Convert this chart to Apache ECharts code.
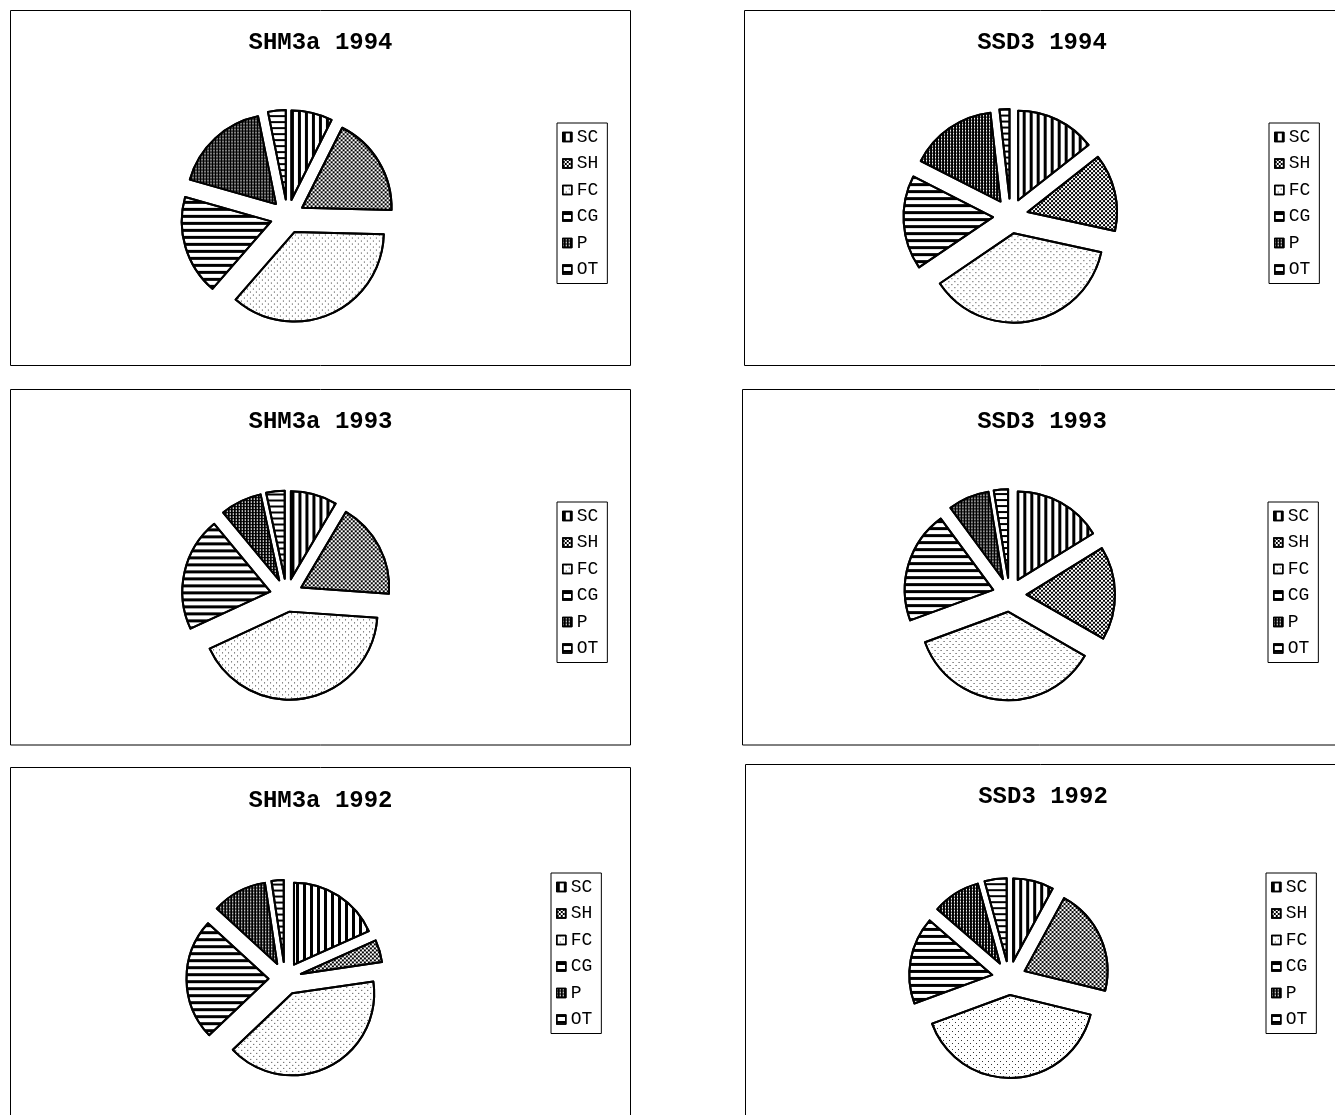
<!DOCTYPE html>
<html>
<head>
<meta charset="utf-8">
<script src="https://cdn.jsdelivr.net/npm/echarts@6/dist/echarts.min.js"></script>
<style>
  html, body { margin: 0; padding: 0; background: #fff; overflow: hidden; }
  #chart { width: 1335px; height: 1115px; }
</style>
</head>
<body>
<div id="chart"></div>
<script>
// Shares (%) per category, slices run clockwise from 12 o'clock
const categories = ['SC', 'SH', 'FC', 'CG', 'P', 'OT'];
const shm3a1994 = [7.4, 18.0, 36.0, 18.0, 17.4, 3.2];
const ssd31994  = [14.4, 14.0, 37.1, 17.0, 15.7, 1.8];
const shm3a1993 = [8.5, 17.6, 42.0, 20.9, 7.6, 3.4];
const ssd31993  = [16.2, 17.1, 36.1, 20.5, 7.5, 2.6];
const shm3a1992 = [18.3, 4.4, 40.2, 23.9, 10.8, 2.4];
const ssd31992  = [7.9, 20.9, 40.6, 17.0, 9.3, 4.3];
const titles = ['SHM3a 1994', 'SSD3 1994', 'SHM3a 1993', 'SSD3 1993', 'SHM3a 1992', 'SSD3 1992'];

// Black & white hatch fills, one per category
const rectDecal = (extra) => Object.assign({
  symbol: 'rect', symbolSize: 1, symbolKeepAspect: false,
  maxTileWidth: 512, maxTileHeight: 512
}, extra);
const fills = {
  SC: { color: '#fff', decal: rectDecal({ color: '#000', dashArrayX: [3, 4], dashArrayY: [8, 0] }) },
  SH: { color: '#fff', decal: rectDecal({ color: '#000', dashArrayX: [[2, 2], [0, 2, 2, 0]], dashArrayY: [2, 0] }) },
  FC: { color: '#fff', decal: rectDecal({ color: '#333', dashArrayX: [[1, 5], [0, 3, 1, 2]], dashArrayY: [1, 2] }) },
  CG: { color: '#fff', decal: rectDecal({ color: '#000', dashArrayX: [8, 0], dashArrayY: [3, 4] }) },
  P:  { color: '#000', decal: rectDecal({ color: '#fff', dashArrayX: [1, 2], dashArrayY: [2, 1] }) },
  OT: { color: '#fff', decal: rectDecal({ color: '#000', dashArrayX: [8, 0], dashArrayY: [2, 4] }) }
};

const panels = [
  { title: titles[0], values: shm3a1994, frame: [10.5, 10.5, 620, 355],   titleAt: [320.5, 43],  center: [287.5, 216.5], radius: 89.5, offset: 17,   legendAt: [557, 123] },
  { title: titles[1], values: ssd31994,  frame: [744.5, 10.5, 700, 355],  titleAt: [1042, 43],   center: [1010.5, 216],  radius: 89.5, offset: 17.5, legendAt: [1269, 123] },
  { title: titles[2], values: shm3a1993, frame: [10.5, 389.5, 620, 355.5], titleAt: [320.5, 422], center: [286.5, 595.3], radius: 88,   offset: 16.6, legendAt: [557, 502] },
  { title: titles[3], values: ssd31993,  frame: [742.5, 389.5, 700, 355.5], titleAt: [1042, 422], center: [1009.5, 594.8], radius: 88.5, offset: 17,  legendAt: [1268, 502] },
  { title: titles[4], values: shm3a1992, frame: [10.5, 767.5, 620, 400],  titleAt: [320.5, 801], center: [285, 978.5],   radius: 82,   offset: 16.5, legendAt: [551, 873] },
  { title: titles[5], values: ssd31992,  frame: [745.5, 764.5, 700, 400], titleAt: [1043, 797],  center: [1009, 978],    radius: 83,   offset: 17,   legendAt: [1266, 873] }
];

const chart = echarts.init(document.getElementById('chart'), null, { renderer: 'canvas' });

const graphics = [];
panels.forEach(p => {
  graphics.push({
    type: 'rect', silent: true, z: 0,
    shape: { x: p.frame[0], y: p.frame[1], width: p.frame[2], height: p.frame[3] },
    style: { fill: 'none', stroke: '#000', lineWidth: 1 }
  });
  graphics.push({
    type: 'text', silent: true, z: 10,
    x: p.titleAt[0], y: p.titleAt[1],
    style: {
      text: p.title, align: 'center', verticalAlign: 'middle',
      font: 'bold 24px "Liberation Mono", "Courier New", monospace', fill: '#000'
    }
  });
});

chart.setOption({
  animation: false,
  backgroundColor: '#fff',
  graphic: graphics,
  legend: panels.map(p => ({
    data: categories,
    orient: 'vertical',
    left: p.legendAt[0],
    top: p.legendAt[1],
    icon: 'rect',
    itemWidth: 9,
    itemHeight: 9,
    itemGap: 8.5,
    padding: [5, 9, 5, 5],
    borderColor: '#000',
    borderWidth: 1,
    selectedMode: false,
    itemStyle: { borderColor: '#000', borderWidth: 1.5 },
    textStyle: { fontFamily: '"Liberation Mono", "Courier New", monospace', fontSize: 18, color: '#000' }
  })),
  series: panels.map(p => ({
    type: 'pie',
    name: p.title,
    center: p.center,
    radius: p.radius,
    startAngle: 90,
    clockwise: true,
    selectedMode: 'multiple',
    selectedOffset: p.offset,
    silent: true,
    label: { show: false },
    labelLine: { show: false },
    emphasis: { disabled: true },
    itemStyle: { borderColor: '#000', borderWidth: 2 },
    select: { itemStyle: { borderColor: '#000', borderWidth: 2 } },
    data: categories.map((c, i) => ({
      name: c,
      value: p.values[i],
      selected: true,
      itemStyle: { color: fills[c].color, decal: fills[c].decal },
      select: { itemStyle: { color: fills[c].color, decal: fills[c].decal } }
    }))
  }))
});
</script>
</body>
</html>
